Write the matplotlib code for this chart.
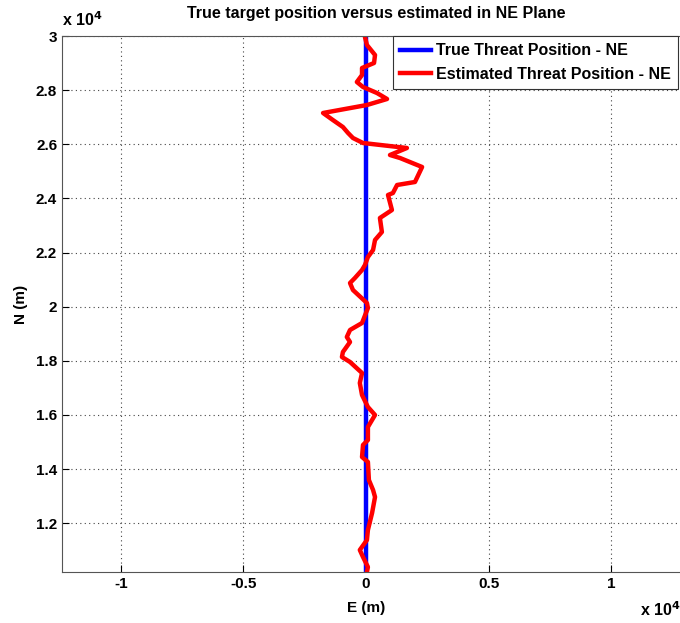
import matplotlib
matplotlib.use("Agg")
import matplotlib.pyplot as plt
from matplotlib.ticker import FuncFormatter

plt.rcParams['font.family'] = ['Liberation Sans', 'DejaVu Sans']
plt.rcParams['font.weight'] = 'bold'

# true threat position (straight north run at E = 0)
true_e = [0, 0]
true_n = [10200, 30000]

# estimated threat position (metres)
est_e = [-40, 40, 370, 330, -160, -160, -370, -120, 450, 860, 40, -1750, -1350,
         -940, -730, -530, -120, 1670, 980, 1390, 2290, 2000, 1270, 1100, 900,
         1060, 570, 650, 370, 290, 80, -40, -160, -450, -650, -530, 40, 80, -160,
         -650, -780, -650, -940, -980, -650, -160, -250, -160, 80, 370, 80, 80,
         -120, -160, 80, 120, 290, 370, 250, 80, 40, -250, -120, 80, 40]
est_n = [29963, 29668, 29298, 29003, 28818, 28559, 28301, 28116, 27894, 27673,
         27451, 27156, 26897, 26638, 26417, 26232, 26047, 25863, 25604, 25493,
         25161, 24607, 24496, 24200, 24127, 23572, 23277, 22760, 22464, 22095,
         21836, 21541, 21356, 21061, 20876, 20617, 20137, 19952, 19398, 19140,
         18881, 18696, 18327, 18142, 17958, 17551, 17182, 16739, 16295, 16000,
         15556, 15076, 14892, 14448, 14264, 13599, 13229, 12971, 12380, 11752,
         11382, 11013, 10754, 10385, 10200]

xticks = [-10000, -5000, 0, 5000, 10000]
yticks = [12000, 14000, 16000, 18000, 20000, 22000, 24000, 26000, 28000, 30000]

W, H = 680, 623
fig = plt.figure(figsize=(W / 100, H / 100), dpi=100)
# axes runs past the right edge, like the cropped original
ax = fig.add_axes([62 / W, 1 - 572 / H, (690 - 62) / W, (572 - 36) / H])

ax.plot(true_e, true_n, color='#0000ff', lw=3.2, label='True Threat Position - NE')
ax.plot(est_e, est_n, color='#ff0000', lw=3.2, label='Estimated Threat Position - NE')

ax.set_xlim(-12400, 13220)
ax.set_ylim(10200, 30000)
ax.set_xticks(xticks)
ax.set_yticks(yticks)
fmt = FuncFormatter(lambda v, p: '%g' % (v / 1e4))
ax.xaxis.set_major_formatter(fmt)
ax.yaxis.set_major_formatter(fmt)
ax.tick_params(direction='in', length=5, labelsize=11, width=0.8)
for s in ax.spines.values():
    s.set_color('#555555')
ax.grid(True, linestyle=(0, (1, 3)), color='#444444', lw=0.8)

ax.set_title('True target position versus estimated in NE Plane',
             fontsize=11.5, fontweight='bold', pad=13)
ax.set_xlabel('E (m)', fontsize=11, fontweight='bold', labelpad=2)
ax.set_ylabel('N (m)', fontsize=11, fontweight='bold', labelpad=6)
ax.xaxis.set_label_coords((366 - 62) / (690 - 62), -0.055)

fig.text(62 / W, 1 - 20 / H, r'x 10$^{\mathbf{4}}$', fontsize=11.5,
         fontweight='bold', ha='left', va='center')
fig.text(640 / W, 1 - 610 / H, r'x 10$^{\mathbf{4}}$', fontsize=11.5,
         fontweight='bold', ha='left', va='center')

leg = ax.legend(loc='upper right', bbox_to_anchor=(678 / W, 1 - 36 / H),
                bbox_transform=fig.transFigure, borderaxespad=0,
                fancybox=False, framealpha=1, edgecolor='#333333',
                prop={'size': 11.5, 'weight': 'bold'}, handlelength=1.95,
                borderpad=0.45, labelspacing=0.55, handletextpad=0.3)
leg.get_frame().set_linewidth(0.8)

fig.savefig('out.png', dpi=100)
